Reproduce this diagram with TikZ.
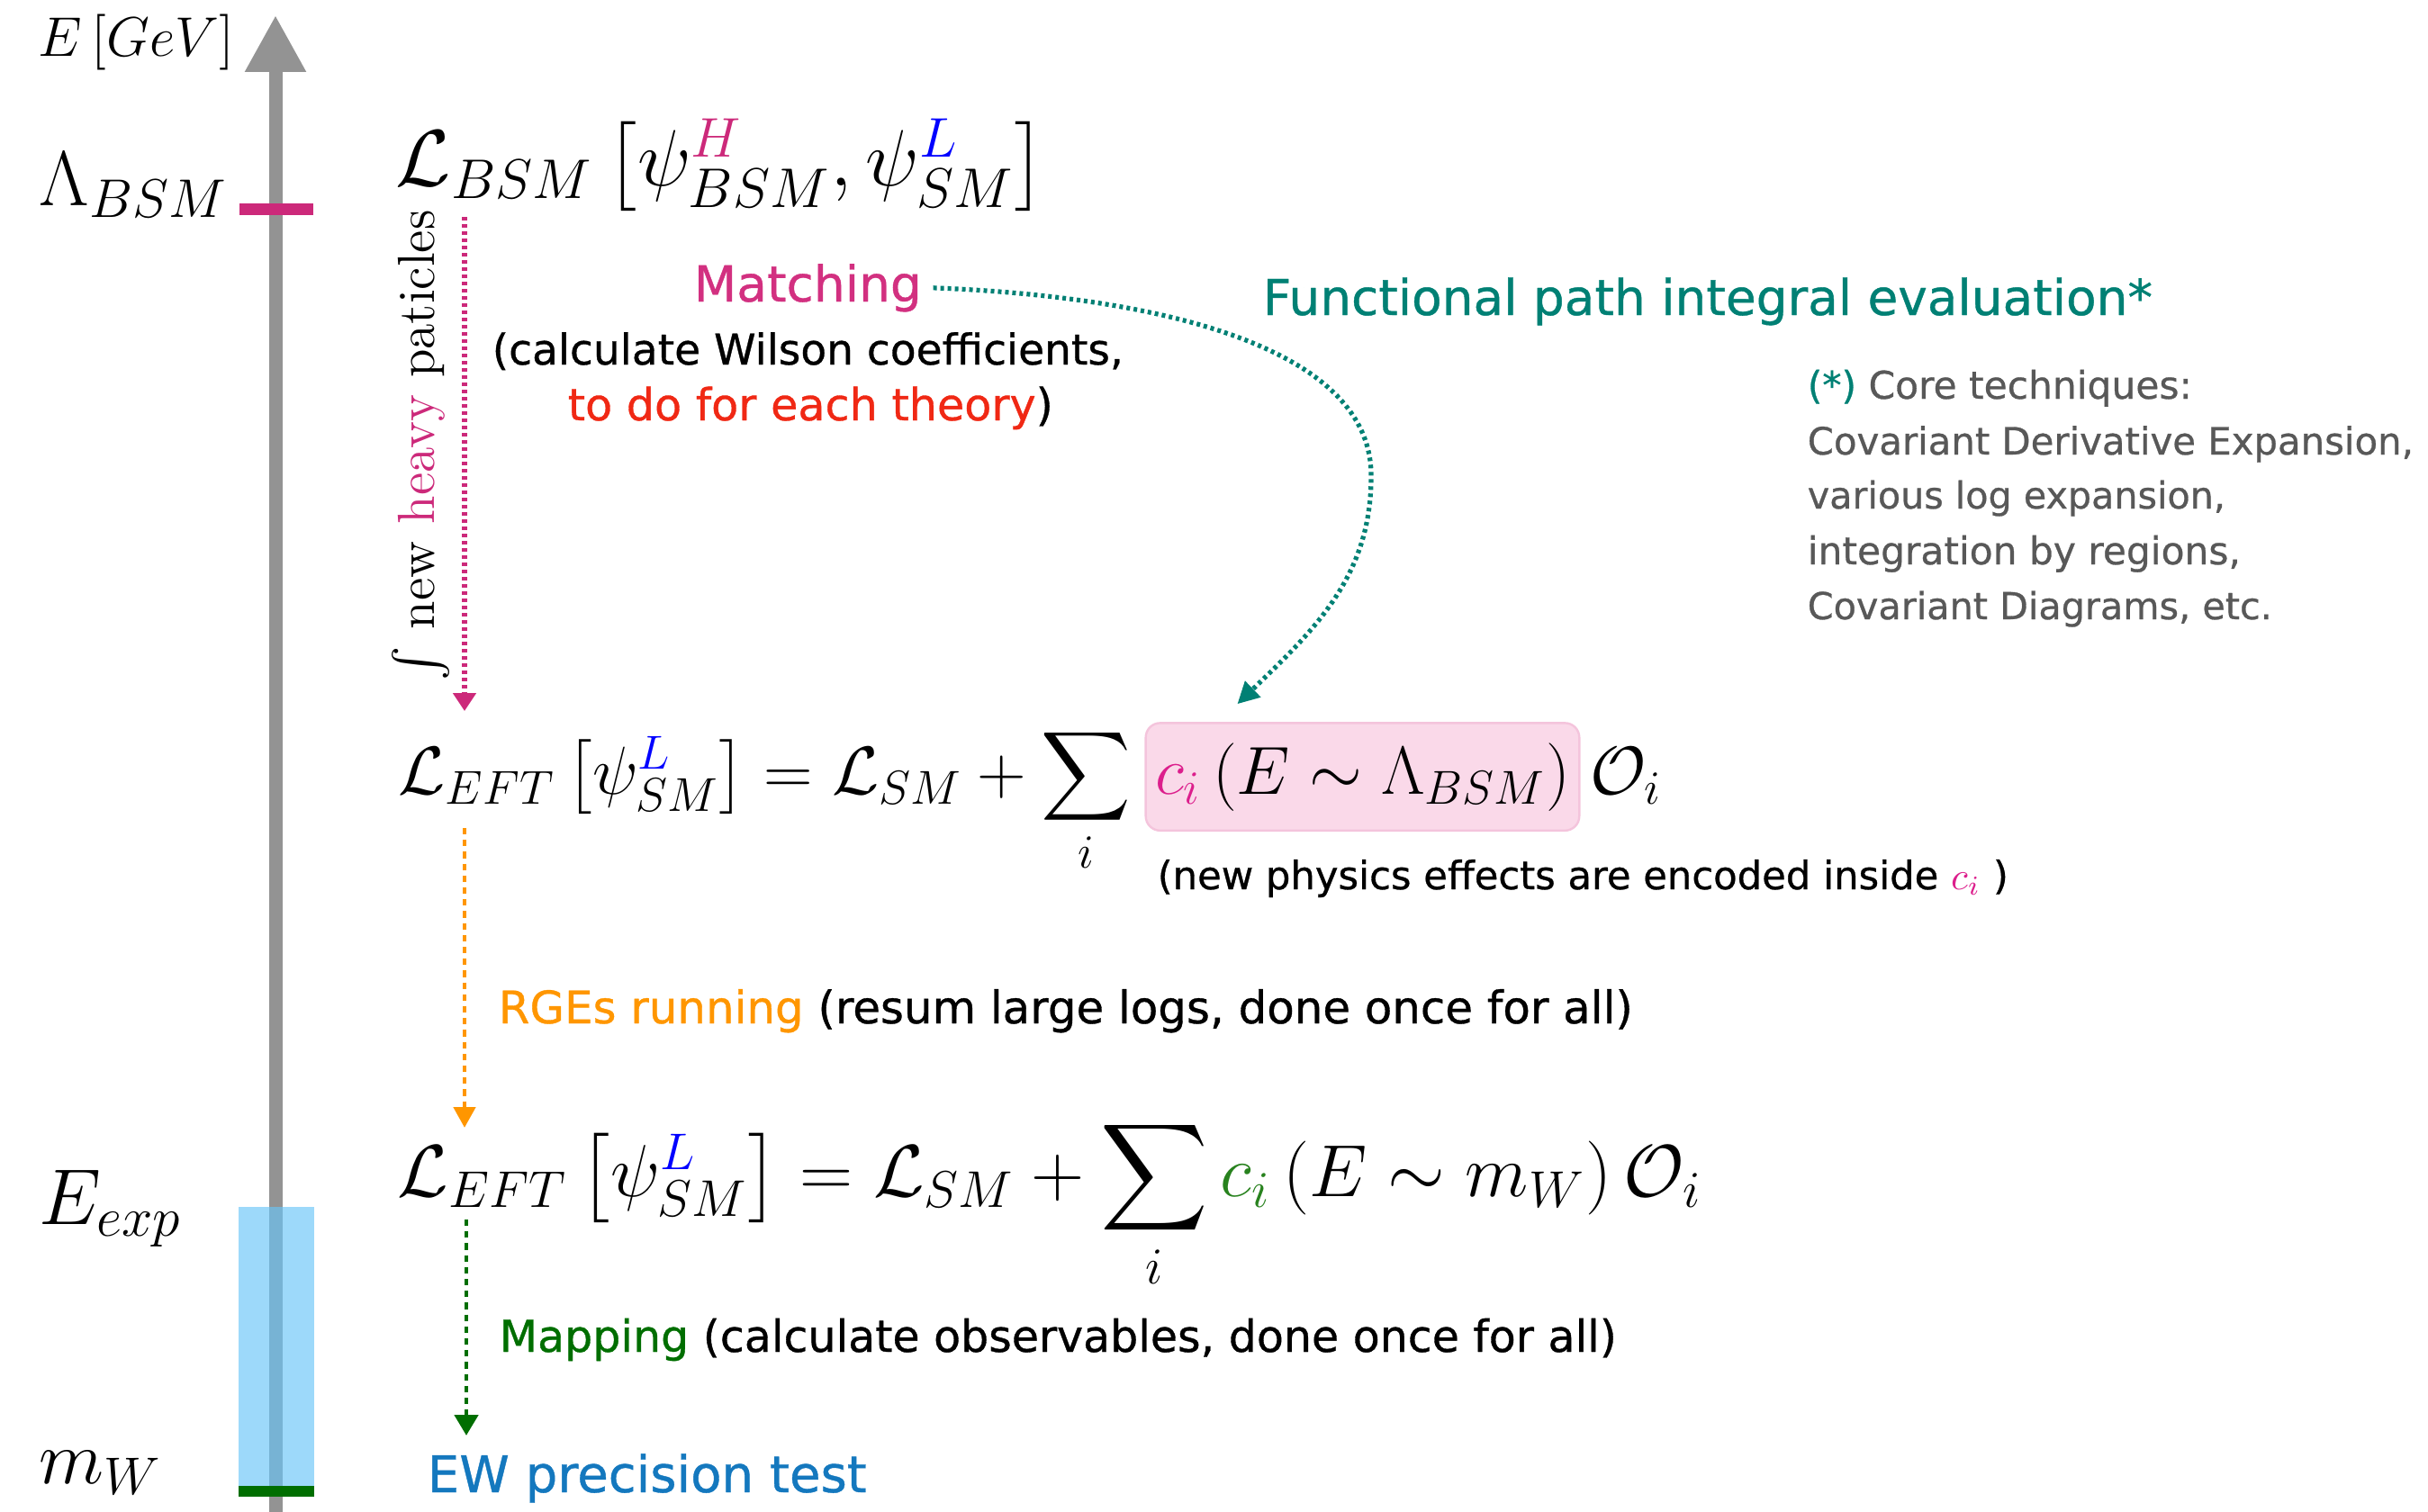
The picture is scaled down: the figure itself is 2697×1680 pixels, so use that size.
\RequirePackage{fix-cm}
\documentclass[tikz,border=0pt]{standalone}
\usepackage{exscale}
\usepackage{fontspec}
\usepackage{graphicx}
\usetikzlibrary{arrows.meta,calc}
\newfontfamily\hand[UprightFeatures={FakeBold=0.7}]{DejaVu Sans}
\definecolor{mag}{RGB}{204,41,122}
\definecolor{magtxt}{RGB}{210,48,128}
\definecolor{tealc}{RGB}{0,128,116}
\definecolor{notegray}{RGB}{88,88,88}
\definecolor{redtxt}{RGB}{240,40,20}
\definecolor{orng}{RGB}{255,150,0}
\definecolor{dgreen}{RGB}{0,110,0}
\definecolor{cgreen}{RGB}{40,130,30}
\definecolor{ewblue}{RGB}{20,120,190}
\definecolor{axgray}{RGB}{147,147,147}
\definecolor{skyb}{RGB}{106,197,247}
\definecolor{pinkfill}{RGB}{250,217,233}
\definecolor{pinkline}{RGB}{244,196,220}
\definecolor{cimag}{RGB}{220,30,140}
\newcommand\fitw[2]{\resizebox{#1}{!}{#2}}
\begin{document}
\begin{tikzpicture}[x=0.25pt,y=-0.25pt,
  axisline/.style={draw=axgray,line width=3.75pt,-{Triangle[length=15.75pt,width=16pt]}},
  magarrow/.style={draw=mag,line width=1.4pt,dash pattern=on 1pt off 1pt,-{Triangle[length=5pt,width=6.25pt]}},
  orarrow/.style={draw=orng,line width=1.2pt,dash pattern=on 1.8pt off 1.5pt,-{Triangle[length=5.75pt,width=6pt]}},
  grarrow/.style={draw=dgreen,line width=1.2pt,dash pattern=on 1.8pt off 1.5pt,-{Triangle[length=5.75pt,width=6.5pt]}},
  tealarrow/.style={draw=tealc,line width=1.3pt,dash pattern=on 1pt off 1pt,-{Triangle[length=6pt,width=6pt]}},
  txt/.style={inner sep=0pt,anchor=base west,font=\hand},
  mathn/.style={inner sep=0pt,anchor=base west},
  pinkbox/.style={fill=pinkfill,draw=pinkline,line width=0.6pt,rounded corners=4pt,inner xsep=2.6pt,inner ysep=5.5pt,anchor=base west}
]
\useasboundingbox (0,0) rectangle (2697,1680);

% energy axis
\coordinate (axbot) at (306,1680);
\coordinate (axtop) at (306,17);
\draw[axisline] (axbot) -- (axtop);
\fill[skyb,opacity=0.66] (265,1341) rectangle (349,1651);
\fill[mag] (266,226) rectangle (348,239);
\fill[dgreen] (265,1651) rectangle (349,1663);

% axis labels
\node[mathn,font=\fontsize{15.5}{18}\selectfont] (egev) at (42,63) {$E\left[GeV\right]$};
\node[mathn,font=\fontsize{21.6}{25}\selectfont] (lam) at (43,229) {$\Lambda_{BSM}$};
\node[mathn,font=\fontsize{22}{25}\selectfont] (eexp) at (43,1360) {$E_{exp}$};
\node[mathn,font=\fontsize{21}{25}\selectfont] (mw) at (43,1648) {$m_W$};

% BSM lagrangian
\node[mathn,font=\fontsize{22.2}{27}\selectfont] (lbsm) at (439,207)
  {$\mathcal{L}_{BSM}\left[\psi^{\textcolor{mag}{H}}_{BSM},\psi^{\textcolor{blue}{L}}_{SM}\right]$};

% rotated label
\node[rotate=90,anchor=base,inner sep=0pt,font=\fontsize{14.5}{17}\selectfont] (heavy) at (482,495)
  {$\int$ new {\color{mag}heavy} paticles};

% matching texts
\node[txt] (matching) at (770,335) {\fitw{63.25pt}{\color{magtxt}Matching}};
\node[txt] (wilson) at (546,405) {\fitw{175.25pt}{(calculate Wilson coefficients,}};
\node[txt] (theory) at (630,467) {\fitw{134.75pt}{{\color{redtxt}to do for each theory})}};

% functional path integral
\node[txt] (fpi) at (1402,350) {\fitw{247pt}{\color{tealc}Functional path integral evaluation*}};
\node[txt] (n1) at (2007,443) {\fitw{106.75pt}{\color{notegray}{\color{tealc}(*)} Core techniques:}};
\node[txt] (n2) at (2007,505) {\fitw{168.25pt}{\color{notegray}Covariant Derivative Expansion,}};
\node[txt] (n3) at (2007,565) {\fitw{116pt}{\color{notegray}various log expansion,}};
\node[txt] (n4) at (2007,627) {\fitw{120.25pt}{\color{notegray}integration by regions,}};
\node[txt] (n5) at (2007,688) {\fitw{129pt}{\color{notegray}Covariant Diagrams, etc.}};

% EFT at Lambda
\node[mathn,font=\fontsize{18.9}{23}\selectfont] (eftA) at (442,882)
  {$\mathcal{L}_{EFT}\left[\psi^{\textcolor{blue}{L}}_{SM}\right]=\mathcal{L}_{SM}+\displaystyle\sum_i$};
\node[pinkbox,font=\fontsize{18.9}{23}\selectfont] (cbox) at ([xshift=3.5pt]eftA.base east)
  {$\textcolor{cimag}{c_i}\left(E\sim\Lambda_{BSM}\right)$};
\node[mathn,font=\fontsize{18.9}{23}\selectfont] (oA) at ([xshift=2.5pt]cbox.base east) {$\mathcal{O}_i$};
\node[txt] (newphys) at (1285,988) {\fitw{236.25pt}{(new physics effects are encoded inside $\textcolor{cimag}{c_i}$ )}};

% RGE
\node[txt] (rge) at (553,1137) {\fitw{315pt}{{\color{orng}RGEs running} (resum large logs, done once for all)}};

% EFT at mW
\node[mathn,font=\fontsize{20.5}{24}\selectfont] (eftB) at (441,1329)
  {$\mathcal{L}_{EFT}\left[\psi^{\textcolor{blue}{L}}_{SM}\right]=\mathcal{L}_{SM}+\displaystyle\sum_i\textcolor{cgreen}{c_i}\left(E\sim m_W\right)\mathcal{O}_i$};

% mapping
\node[txt] (mapping) at (554,1502) {\fitw{310.25pt}{{\color{dgreen}Mapping} (calculate observables, done once for all)}};
\node[txt] (ew) at (474,1658) {\fitw{122pt}{\color{ewblue}EW precision test}};

% connectors
\coordinate (m1) at (516,241);
\coordinate (m2) at (516,790);
\coordinate (o1) at (516,920);
\coordinate (o2) at (516,1253);
\coordinate (g1) at (518,1355);
\coordinate (g2) at (518,1595);
\coordinate (tmid) at (1523,530);
\coordinate (tealend) at ($(cbox.north west)+(103,-20)$);
\draw[magarrow] (m1) -- (m2);
\draw[orarrow] (o1) -- (o2);
\draw[grarrow] (g1) -- (g2);
\draw[tealarrow] ([xshift=3pt]matching.east) .. controls (1300,330) and (1525,390) .. (tmid)
  .. controls (1523,640) and (1460,700) .. (tealend);
\end{tikzpicture}
\end{document}
